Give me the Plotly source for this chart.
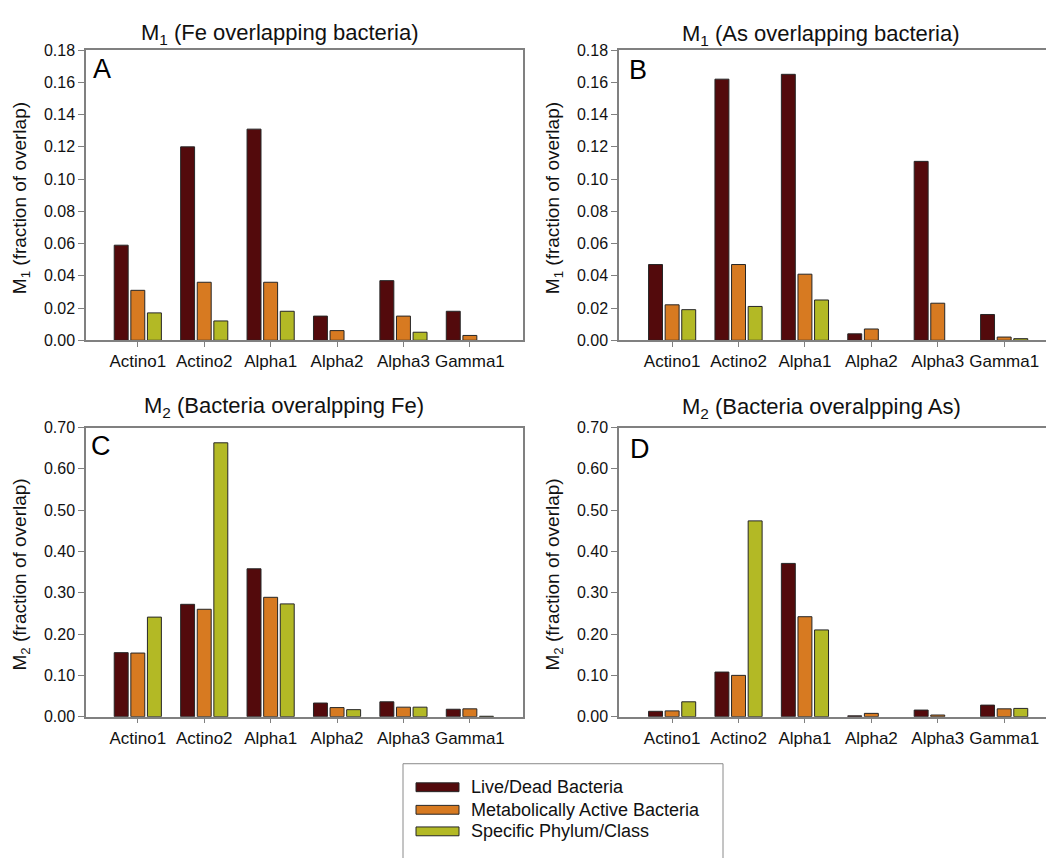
import plotly.graph_objects as go

W, H = 1046, 858

categories = ["Actino1", "Actino2", "Alpha1", "Alpha2", "Alpha3", "Gamma1"]
series_names = ["Live/Dead Bacteria", "Metabolically Active Bacteria", "Specific Phylum/Class"]
series_colors = ["#530a0c", "#d77a21", "#b3b925"]

# Panel A: M1 (Fe overlapping bacteria)  (None = no bar drawn)
a_live = [0.059, 0.120, 0.131, 0.015, 0.037, 0.018]
a_active = [0.031, 0.036, 0.036, 0.006, 0.015, 0.003]
a_phylum = [0.017, 0.012, 0.018, None, 0.005, None]

# Panel B: M1 (As overlapping bacteria)
b_live = [0.047, 0.162, 0.165, 0.004, 0.111, 0.016]
b_active = [0.022, 0.047, 0.041, 0.007, 0.023, 0.002]
b_phylum = [0.019, 0.021, 0.025, None, None, 0.001]

# Panel C: M2 (Bacteria overlapping Fe)
c_live = [0.155, 0.272, 0.358, 0.033, 0.036, 0.018]
c_active = [0.154, 0.260, 0.289, 0.022, 0.023, 0.019]
c_phylum = [0.241, 0.663, 0.273, 0.017, 0.023, 0.001]

# Panel D: M2 (Bacteria overlapping As)
d_live = [0.013, 0.108, 0.371, 0.002, 0.016, 0.028]
d_active = [0.014, 0.100, 0.242, 0.008, 0.004, 0.019]
d_phylum = [0.036, 0.474, 0.210, None, None, 0.020]

panel_titles = ["M<sub>1</sub> (Fe overlapping bacteria)", "M<sub>1</sub> (As overlapping bacteria)",
                "M<sub>2</sub> (Bacteria overalpping Fe)", "M<sub>2</sub> (Bacteria overalpping As)"]
panel_letters = ["A", "B", "C", "D"]
y_titles = ["M<sub>1</sub> (fraction of overlap)", "M<sub>1</sub> (fraction of overlap)",
            "M<sub>2</sub> (fraction of overlap)", "M<sub>2</sub> (fraction of overlap)"]

panels = [
    (a_live, a_active, a_phylum),
    (b_live, b_active, b_phylum),
    (c_live, c_active, c_phylum),
    (d_live, d_active, d_phylum),
]

FONT = "Liberation Sans, Arial, sans-serif"
AXC = "#808080"
OUTLINE = "#262626"


def px(x):
    return x / W


def py(y):
    return 1 - y / H


fig = go.Figure()
for i, vals in enumerate(panels):
    ax = "" if i == 0 else str(i + 1)
    for j, v in enumerate(vals):
        fig.add_trace(go.Bar(
            x=categories, y=v, name=series_names[j],
            marker=dict(color=series_colors[j], line=dict(color=OUTLINE, width=1)),
            xaxis="x" + ax, yaxis="y" + ax,
            showlegend=False, legendgroup=series_names[j],
        ))

xdom_left = [px(86), px(523)]
xdom_right = [px(619), 1.0]
ydom_top = [py(339), py(43)]
ydom_bot = [py(723), py(428)]

common_x = dict(type="category", categoryorder="array", categoryarray=categories,
                showline=True, linecolor=AXC, linewidth=1.5, ticks="outside", ticklen=5,
                tickcolor=AXC, tickfont=dict(size=17, color="#111", family=FONT),
                showgrid=False, zeroline=False, fixedrange=True)
common_y = dict(showline=True, linecolor=AXC, linewidth=1.5, ticks="outside", ticklen=6,
                tickcolor=AXC, tickfont=dict(size=16, color="#111", family=FONT),
                showgrid=False, zeroline=False, tickformat=".2f", fixedrange=True)

layout = dict(
    width=W, height=H, margin=dict(l=0, r=0, t=0, b=0),
    paper_bgcolor="white", plot_bgcolor="white",
    barmode="group", bargap=0.25, bargroupgap=0.16,
    font=dict(family=FONT, color="#111"),
    showlegend=False,
)

layout["xaxis"] = dict(common_x, domain=xdom_left, range=[-0.78, 5.8], anchor="y", mirror=True)
layout["yaxis"] = dict(common_y, domain=ydom_top, range=[0, 0.18], dtick=0.02, anchor="x", mirror=True)
layout["xaxis2"] = dict(common_x, domain=xdom_right, range=[-0.8, 5.63], anchor="y2", mirror=True)
layout["yaxis2"] = dict(common_y, domain=ydom_top, range=[0, 0.18], dtick=0.02, anchor="x2", mirror=False)
layout["xaxis3"] = dict(common_x, domain=xdom_left, range=[-0.78, 5.8], anchor="y3", mirror=True)
layout["yaxis3"] = dict(common_y, domain=ydom_bot, range=[0, 0.70], dtick=0.10, anchor="x3", mirror=True)
layout["xaxis4"] = dict(common_x, domain=xdom_right, range=[-0.8, 5.63], anchor="y4", mirror=True)
layout["yaxis4"] = dict(common_y, domain=ydom_bot, range=[0, 0.70], dtick=0.10, anchor="x4", mirror=False)

fig.update_layout(**layout)

title_pos = [(280, 27), (821, 28), (284, 407), (821, 408)]
letter_pos = [(102, 62), (638, 63), (101, 447), (640, 450)]
ytitle_pos = [(21, 194), (554, 194), (21, 578), (554, 578)]

annotations = []
for i in range(4):
    tx, ty = title_pos[i]
    annotations.append(dict(text=panel_titles[i], x=px(tx), y=py(ty), xref="paper", yref="paper",
                            xanchor="center", yanchor="middle", showarrow=False,
                            font=dict(size=22, family=FONT, color="#111")))
    lx, ly = letter_pos[i]
    annotations.append(dict(text=panel_letters[i], x=px(lx), y=py(ly), xref="paper", yref="paper",
                            xanchor="center", yanchor="middle", showarrow=False,
                            font=dict(size=27, family=FONT, color="#000")))
    yx, yy = ytitle_pos[i]
    annotations.append(dict(text=y_titles[i], x=px(yx), y=py(yy), xref="paper", yref="paper",
                            xanchor="center", yanchor="middle", showarrow=False, textangle=-90,
                            font=dict(size=19, family=FONT, color="#111")))

# legend box (drawn as shapes + text so the swatches are wide bars like the reference)
shapes = [dict(type="rect", xref="paper", yref="paper", x0=px(403), x1=px(723),
               y0=py(875), y1=py(771), line=dict(color="#8a8a8a", width=1), fillcolor="white",
               layer="below")]
legend_rows = [795, 818, 840]
for j, name in enumerate(series_names):
    cy = legend_rows[j]
    shapes.append(dict(type="rect", xref="paper", yref="paper", x0=px(416), x1=px(459),
                       y0=py(cy + 4.5), y1=py(cy - 4.5), fillcolor=series_colors[j],
                       line=dict(color=OUTLINE, width=1)))
    annotations.append(dict(text=name, x=px(469), y=py(cy), xref="paper", yref="paper",
                            xanchor="left", yanchor="middle", showarrow=False,
                            font=dict(size=18, family=FONT, color="#111")))

fig.update_layout(annotations=annotations, shapes=shapes)

fig.write_html("out.html", config={"displayModeBar": False},
               post_script="document.body.style.margin='0';document.body.style.overflow='hidden';")
